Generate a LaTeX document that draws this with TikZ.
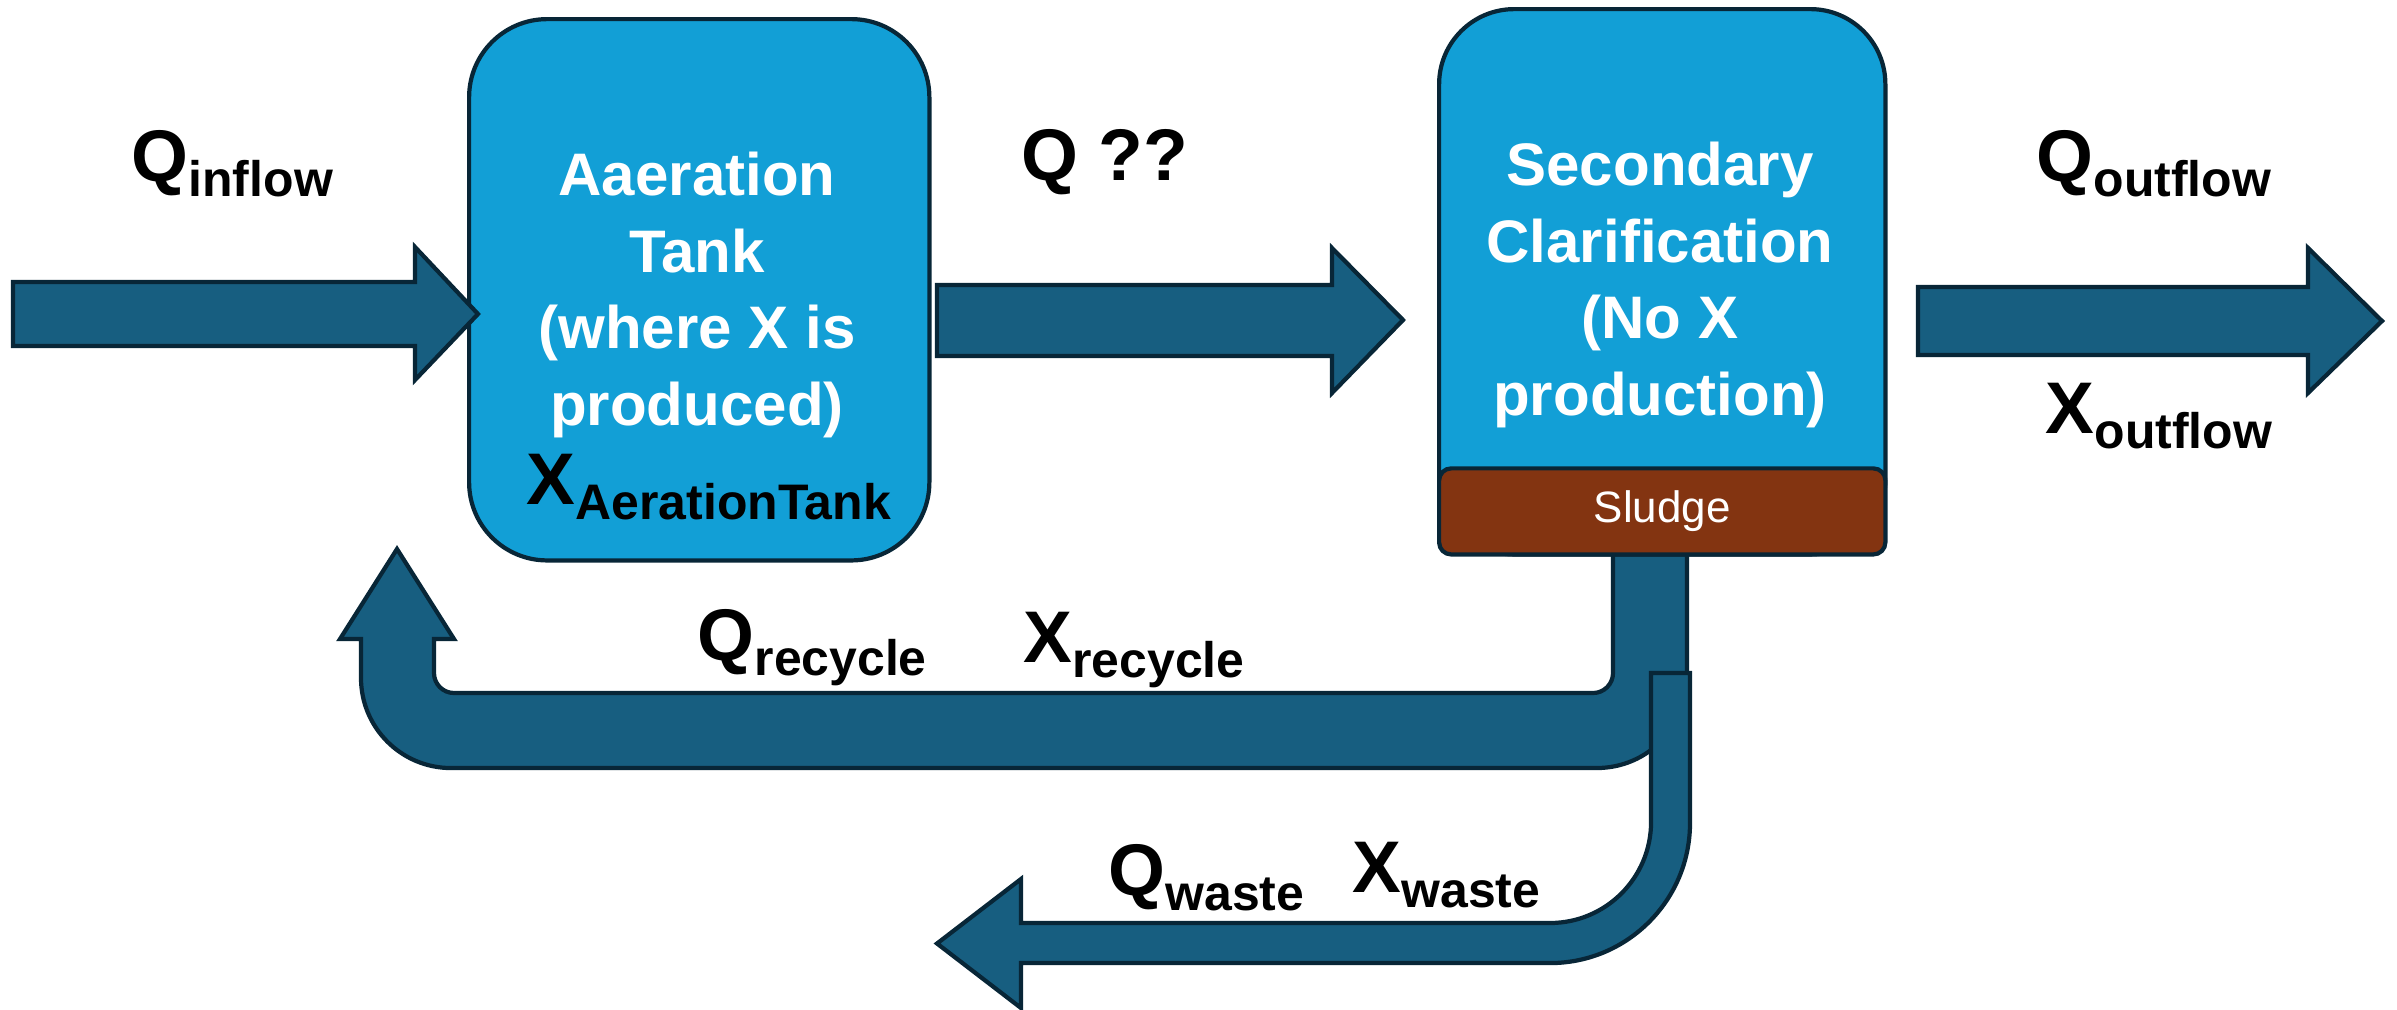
\documentclass[tikz,border=0pt]{standalone}
\usepackage{fontspec}
\setmainfont{Liberation Sans}
\begin{document}
\begin{tikzpicture}[x=0.01cm,y=0.01cm]
\definecolor{boxblue}{RGB}{18,159,214}
\definecolor{arrowblue}{RGB}{23,94,128}
\definecolor{outl}{RGB}{8,38,55}
\definecolor{sludgebrown}{RGB}{131,52,17}
\tikzset{
  edgeline/.style={draw=outl, line width=1.2pt, line join=miter},
  tank/.style={edgeline, fill=boxblue, rounded corners=0.78cm, inner sep=0pt},
  flow/.style={edgeline, fill=arrowblue},
  intext/.style={text=white, font=\bfseries\fontsize{17.07}{21.76}\selectfont, align=center, inner sep=0pt},
  lbl/.style={anchor=base west, inner sep=0pt, font=\bfseries\fontsize{20.8}{24}\selectfont},
  sludgebox/.style={edgeline, fill=sludgebrown, rounded corners=0.12cm, text=white, font=\fontsize{12.5}{15}\selectfont, inner sep=0pt},
}
\newcommand\subl[1]{\raisebox{-0.15cm}{\fontsize{14.2}{16}\selectfont #1}}
\useasboundingbox (0,0) rectangle (2397,-1009);

% recycle U-turn arrow
\draw[flow] (1613,-550) -- (1613,-673) arc[start angle=0,end angle=-90,radius=0.2cm]
  -- (454,-693) arc[start angle=-90,end angle=-180,radius=0.2cm]
  -- (434,-639) -- (454,-639) -- (397,-549) -- (340,-639) -- (361,-639)
  -- (361,-678) arc[start angle=180,end angle=270,radius=0.9cm]
  -- (1597,-768) arc[start angle=270,end angle=360,radius=0.9cm]
  -- (1687,-550) -- cycle;
% waste arrow
\draw[flow] (1651,-673) -- (1690,-673) -- (1690,-823)
  arc[start angle=0,end angle=-90,radius=1.4cm]
  -- (1021,-963) -- (1021,-1008) -- (937,-943.5) -- (1021,-879) -- (1021,-923)
  -- (1550,-923) arc[start angle=-90,end angle=0,radius=1.01cm]
  -- cycle;

% tanks
\node[tank, minimum width=4.60cm, minimum height=5.41cm, anchor=north west] (aer) at (467,-17) {};
\node[tank, rounded corners=0.75cm, minimum width=4.46cm, minimum height=5.45cm, anchor=north west] (clar) at (1437,-7) {};
\node[sludgebox, minimum width=4.46cm, minimum height=0.86cm, anchor=south] (sludge) at (clar.south) {Sludge};

\node[intext] (aertext) at (697,-295) {Aaeration\\Tank\\(where X is\\produced)};
\node[intext] (clartext) at (1660,-285) {Secondary\\Clarification\\(No X\\production)};

% straight arrows
\draw[flow] (13,-282) -- (415,-282) -- (415,-247) -- (478,-314) -- (415,-380) -- (415,-346) -- (13,-346) -- cycle;
\draw[flow] (937,-285) -- (1332,-285) -- (1332,-248) -- (1403,-320) -- (1332,-393) -- (1332,-356) -- (937,-356) -- cycle;
\draw[flow] (1918,-287) -- (2308,-287) -- (2308,-248) -- (2382,-321) -- (2308,-393) -- (2308,-355) -- (1918,-355) -- cycle;

% labels
\node[lbl] (qin) at (131,-181) {Q\subl{inflow}};
\node[lbl] (qmid) at (1021,-180) {Q ??};
\node[lbl] (qout) at (2036,-181) {Q\subl{outflow}};
\node[lbl] (xout) at (2045,-433) {X\subl{outflow}};
\node[lbl] (xaer) at (526,-504) {X\subl{AerationTank}};
\node[lbl] (qrec) at (697,-660) {Q\subl{recycle}};
\node[lbl] (xrec) at (1023,-662) {X\subl{recycle}};
\node[lbl] (qwaste) at (1108,-895) {Q\subl{waste}};
\node[lbl] (xwaste) at (1352,-892) {X\subl{waste}};
\end{tikzpicture}
\end{document}
